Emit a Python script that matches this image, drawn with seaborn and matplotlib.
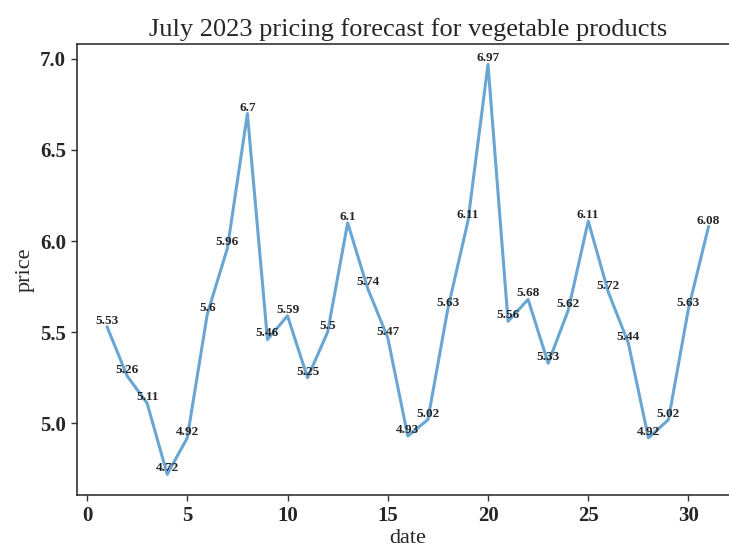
import matplotlib
matplotlib.use("Agg")
import matplotlib.pyplot as plt
import seaborn as sns
import pandas as pd

days = list(range(1, 32))
prices = [5.53, 5.26, 5.11, 4.72, 4.92, 5.6, 5.96, 6.7, 5.46, 5.59,
          5.25, 5.5, 6.1, 5.74, 5.47, 4.93, 5.02, 5.63, 6.11, 6.97,
          5.56, 5.68, 5.33, 5.62, 6.11, 5.72, 5.44, 4.92, 5.02, 5.63, 6.08]
price_labels = ["5.53", "5.26", "5.11", "4.72", "4.92", "5.6", "5.96", "6.7", "5.46", "5.59",
                "5.25", "5.5", "6.1", "5.74", "5.47", "4.93", "5.02", "5.63", "6.11", "6.97",
                "5.56", "5.68", "5.33", "5.62", "6.11", "5.72", "5.44", "4.92", "5.02", "5.63", "6.08"]

df = pd.DataFrame({"date": days, "price": prices})

sns.set_style("white")
plt.rcParams["font.family"] = ["Liberation Serif", "DejaVu Serif"]

fig = plt.figure(figsize=(7.29, 5.48), dpi=100)
ax = fig.add_axes([0.1056, 0.097, 0.9076, 0.823])

sns.lineplot(data=df, x="date", y="price", ax=ax, color="#6aa6d3", linewidth=2.2)

for x, y, s in zip(days, prices, price_labels):
    ax.text(x, y, s, ha="center", va="bottom", fontsize=9.5, fontweight="bold")

ax.set_title("July 2023 pricing forecast for vegetable products", fontsize=19)
ax.set_xlabel("date", fontsize=16, labelpad=2)
ax.set_ylabel("price", fontsize=16, labelpad=4)
ax.set_xticks([0, 5, 10, 15, 20, 25, 30])
ax.set_yticks([5.0, 5.5, 6.0, 6.5, 7.0])
ax.tick_params(axis="both", which="major", labelsize=15, length=4, width=1,
               direction="out", bottom=True, left=True, color="#333333", pad=4)
for lbl in ax.get_xticklabels() + ax.get_yticklabels():
    lbl.set_fontweight("bold")
for sp in ax.spines.values():
    sp.set_color("#333333")
    sp.set_linewidth(1.2)

fig.savefig("out.png", dpi=100)
